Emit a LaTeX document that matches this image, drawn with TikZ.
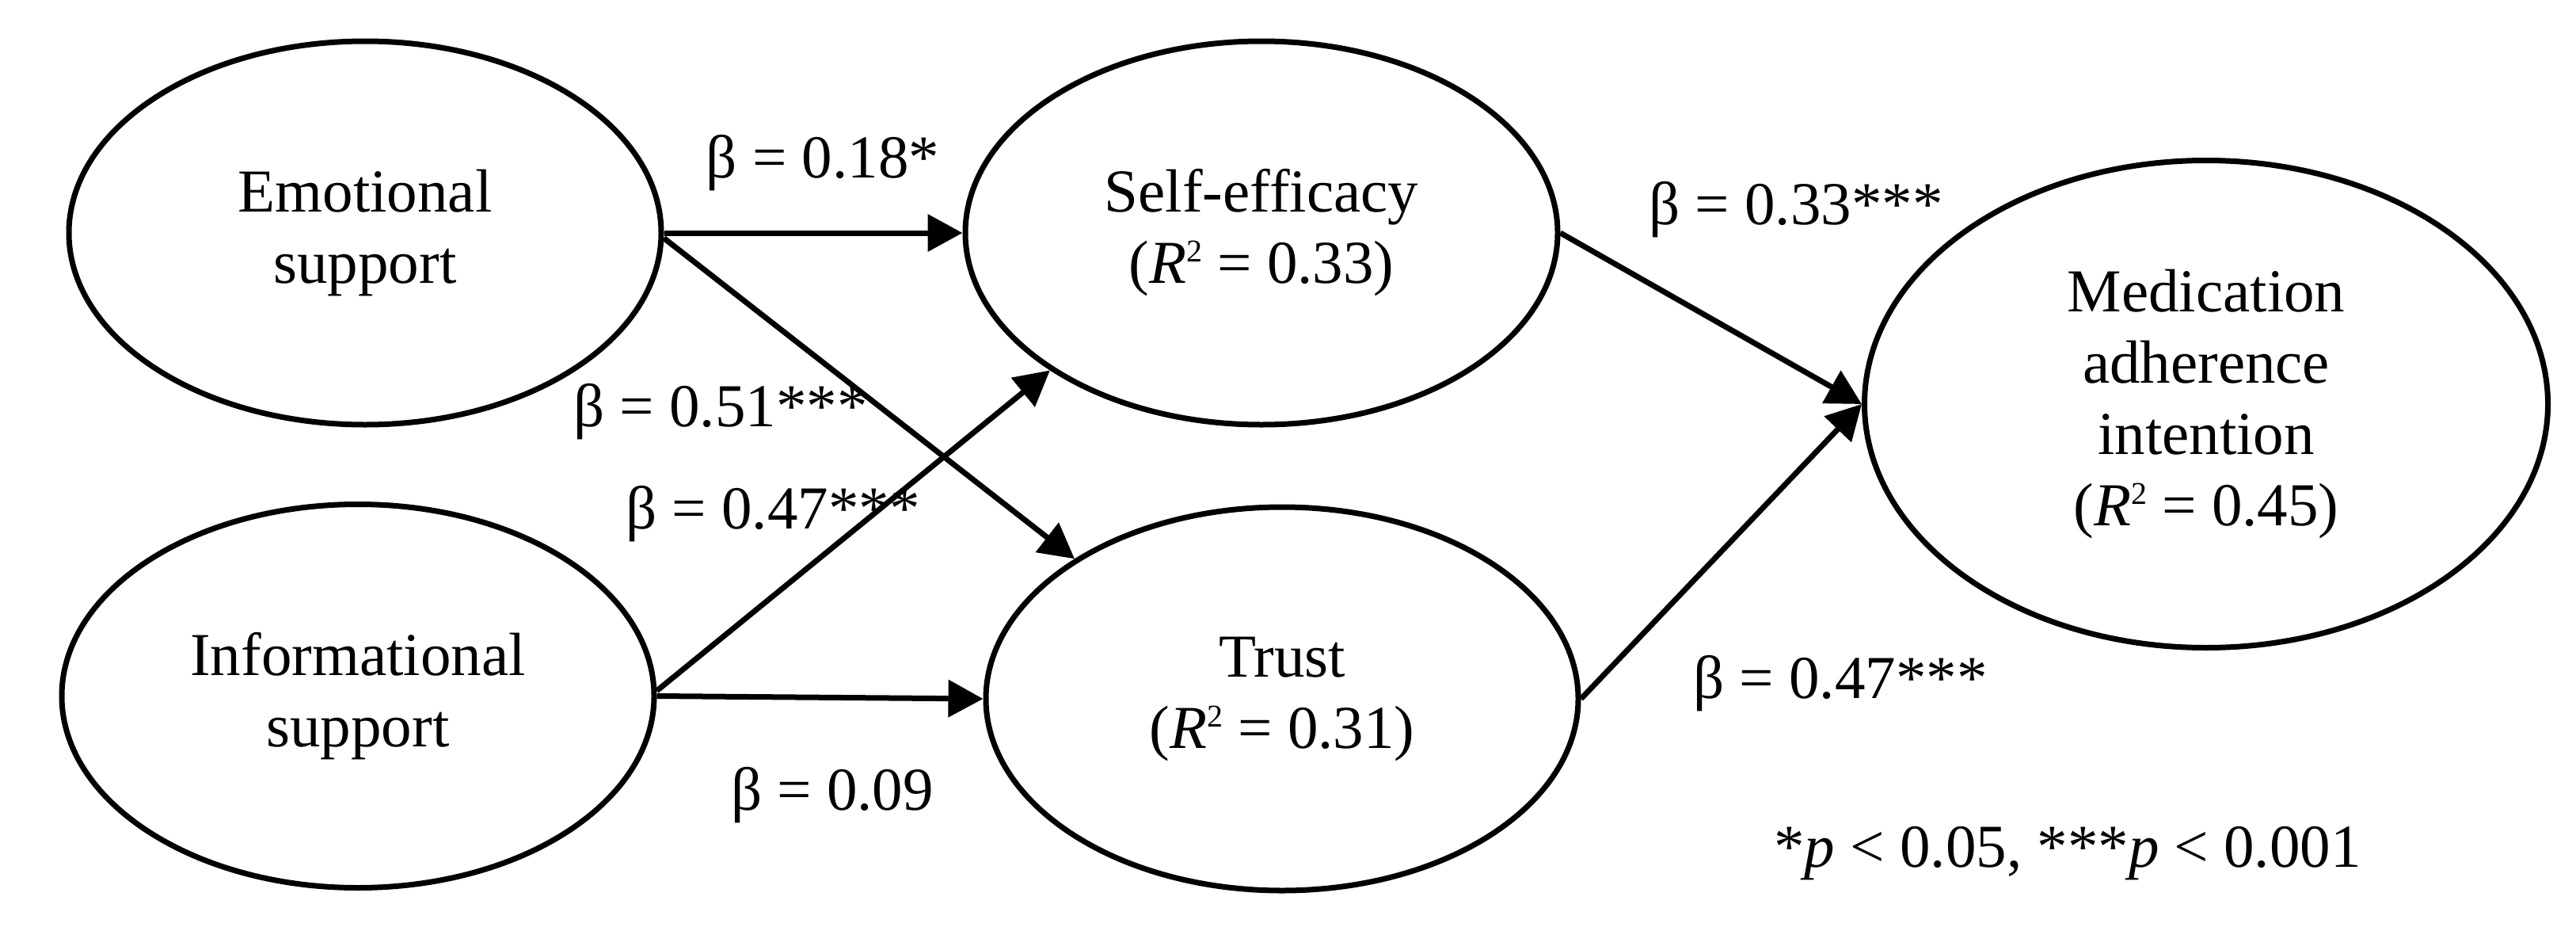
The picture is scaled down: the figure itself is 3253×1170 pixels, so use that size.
\documentclass[tikz,border=0pt]{standalone}
\usepackage{fontspec}
\setmainfont{Liberation Serif}
\usetikzlibrary{arrows.meta,shapes.geometric}
\newcommand{\rsqval}{\textit{R}\raisebox{27pt}{\fontsize{40}{40}\selectfont 2}}
\tikzset{
  txt/.style={font=\fontsize{77}{90}\selectfont},
  latent/.style={ellipse, draw, line width=7pt, minimum width=748pt, minimum height=484pt,
    inner sep=0pt, align=center, txt},
  bigoval/.style={latent, minimum width=863pt, minimum height=615pt},
  patharrow/.style={line width=7pt, -{Triangle[length=44pt,width=46pt]}},
  coef/.style={txt, anchor=base, inner sep=0pt}
}
\begin{document}
\begin{tikzpicture}[x=1pt,y=-1pt]
\useasboundingbox (0,0) rectangle (3253,1170);
\node[latent] (emo) at (461,294) {Emotional\\support};
\node[latent] (inf) at (452,878.5) {Informational\\support};
\node[latent] (self) at (1593,294) {Self-efficacy\\(\rsqval{} = 0.33)};
\node[latent] (trust) at (1619,882) {Trust\\(\rsqval{} = 0.31)};
\node[bigoval] (med) at (2786,510) {Medication\\adherence\\intention\\(\rsqval{} = 0.45)};

\draw[patharrow] (emo.east) -- (self.west);
\draw[patharrow] (emo.-1.5) -- (trust.146.8);
\draw[patharrow] (inf.1) -- (self.213);
\draw[patharrow] (inf.east) -- (trust.west);
\draw[patharrow] (self.east) -- (med.west);
\draw[patharrow] (trust.east) -- (med.west);

\node[coef] (c1) at (1039,224) {β = 0.18*};
\node[coef] (c2) at (910,538) {β = 0.51***};
\node[coef] (c3) at (976,667) {β = 0.47***};
\node[coef] (c4) at (1051,1022) {β = 0.09};
\node[coef] (c5) at (2268,283) {β = 0.33***};
\node[coef] (c6) at (2324,881) {β = 0.47***};
\node[coef] (note) at (2611,1094) {*\textit{p} < 0.05, ***\textit{p} < 0.001};
\end{tikzpicture}
\end{document}
